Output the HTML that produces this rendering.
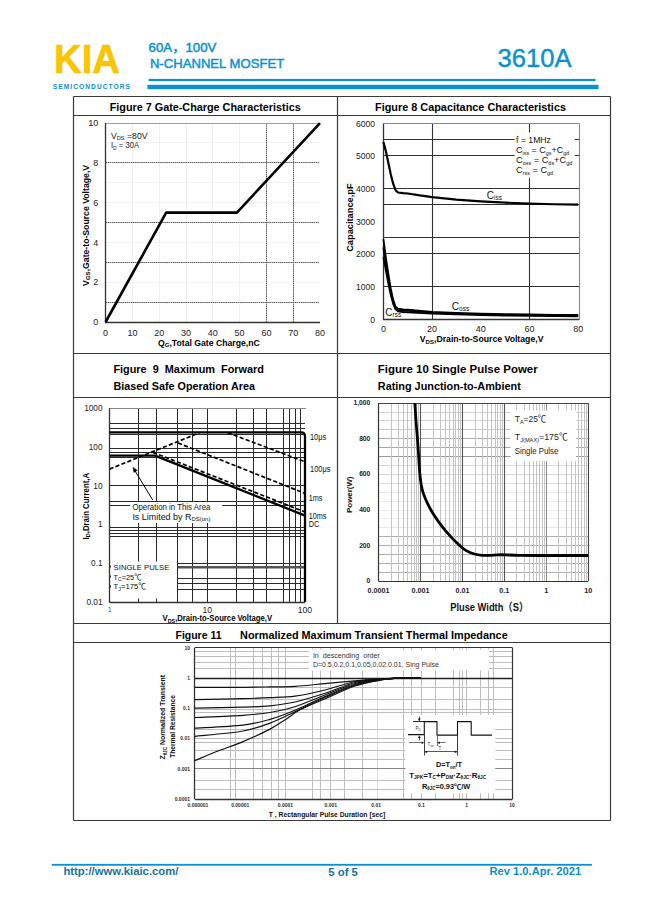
<!DOCTYPE html>
<html><head><meta charset="utf-8"><title>3610A datasheet page 5</title>
<style>
html,body{margin:0;padding:0;background:#fff;}
svg{display:block;font-family:"Liberation Sans", "Noto Sans CJK SC", sans-serif;}
</style></head>
<body>
<svg width="649" height="917" viewBox="0 0 649 917">
<rect width="649" height="917" fill="#fff"/>
<text x="54" y="72.7" font-size="40.3" font-weight="bold" textLength="66" lengthAdjust="spacingAndGlyphs" fill="#f9c500" stroke="#f9c500" stroke-width="0.6">KIA</text>
<text transform="translate(52.8 89.1) scale(0.84 1)" x="0" y="0" font-size="7.9" font-weight="bold" textLength="91.9" lengthAdjust="spacing" fill="#0a92cf">SEMICONDUCTORS</text>
<text x="148.6" y="52.3" font-size="12" textLength="67.8" lengthAdjust="spacingAndGlyphs" font-family="'Liberation Sans', 'Noto Sans CJK SC', sans-serif" fill="#0a92cf" stroke="#0a92cf" stroke-width="0.45">60A，100V</text>
<text x="149.9" y="68.3" font-size="12.6" textLength="134.3" lengthAdjust="spacingAndGlyphs" fill="#0a92cf" stroke="#0a92cf" stroke-width="0.45">N-CHANNEL MOSFET</text>
<text x="497.6" y="67.1" font-size="25.5" textLength="74" lengthAdjust="spacingAndGlyphs" fill="#0a92cf" stroke="#0a92cf" stroke-width="0.4">3610A</text>
<rect x="148.6" y="78.9" width="447" height="2.2" fill="#0a92cf" stroke="none" stroke-width="0"/>
<rect x="147.4" y="84.8" width="451.1" height="4.4" fill="#0a92cf" stroke="none" stroke-width="0"/>
<line x1="73.5" y1="96.5" x2="610.5" y2="96.5" stroke="#3a3a3a" stroke-width="1.2"/>
<line x1="73.5" y1="820.5" x2="610.5" y2="820.5" stroke="#3a3a3a" stroke-width="1.2"/>
<line x1="73.5" y1="96.5" x2="73.5" y2="820.6" stroke="#3a3a3a" stroke-width="1.2"/>
<line x1="610.5" y1="96.5" x2="610.5" y2="820.6" stroke="#3a3a3a" stroke-width="1.2"/>
<line x1="337.5" y1="96.5" x2="337.5" y2="623.6" stroke="#3a3a3a" stroke-width="1.2"/>
<line x1="73.5" y1="115.5" x2="610.5" y2="115.5" stroke="#3a3a3a" stroke-width="1.2"/>
<line x1="73.5" y1="353.5" x2="610.5" y2="353.5" stroke="#3a3a3a" stroke-width="1.2"/>
<line x1="73.5" y1="397.5" x2="610.5" y2="397.5" stroke="#3a3a3a" stroke-width="1.2"/>
<line x1="73.5" y1="623.5" x2="610.5" y2="623.5" stroke="#3a3a3a" stroke-width="1.2"/>
<line x1="73.5" y1="642.5" x2="610.5" y2="642.5" stroke="#3a3a3a" stroke-width="1.2"/>
<text x="205.2" y="110.9" font-size="10.3" font-weight="bold" text-anchor="middle" textLength="191" lengthAdjust="spacingAndGlyphs" fill="#000">Figure 7 Gate-Charge Characteristics</text>
<text x="470.5" y="110.9" font-size="10.3" font-weight="bold" text-anchor="middle" textLength="191" lengthAdjust="spacingAndGlyphs" fill="#000">Figure 8 Capacitance Characteristics</text>
<text x="113.4" y="373.3" font-size="10.6" font-weight="bold" textLength="150.6" lengthAdjust="spacingAndGlyphs" fill="#000">Figure&#160;&#160;9&#160;&#160;Maximum&#160;&#160;Forward</text>
<text x="113.4" y="390.4" font-size="10.6" font-weight="bold" textLength="141.6" lengthAdjust="spacingAndGlyphs" fill="#000">Biased Safe Operation Area</text>
<text x="377.8" y="373.3" font-size="10.6" font-weight="bold" textLength="159.9" lengthAdjust="spacingAndGlyphs" fill="#000">Figure 10 Single Pulse Power</text>
<text x="377.8" y="390.4" font-size="10.6" font-weight="bold" textLength="143" lengthAdjust="spacingAndGlyphs" fill="#000">Rating Junction-to-Ambient</text>
<text x="175.5" y="639.4" font-size="11" font-weight="bold" textLength="46" lengthAdjust="spacingAndGlyphs" fill="#000">Figure 11</text>
<text x="240.1" y="639.4" font-size="11" font-weight="bold" textLength="267.6" lengthAdjust="spacingAndGlyphs" fill="#000">Normalized Maximum Transient Thermal Impedance</text>
<rect x="51.8" y="863.9" width="540.1" height="1.8" fill="#0a92cf" stroke="none" stroke-width="0"/>
<text x="63.4" y="875.3" font-size="11" font-weight="bold" textLength="115" lengthAdjust="spacingAndGlyphs" fill="#17739a">http://www.kiaic.com/</text>
<text x="328.3" y="875.6" font-size="11" font-weight="bold" textLength="29.6" lengthAdjust="spacingAndGlyphs" fill="#17739a">5 of 5</text>
<text x="489.6" y="875.3" font-size="11" font-weight="bold" textLength="91.5" lengthAdjust="spacingAndGlyphs" fill="#0c8fcc">Rev 1.0.Apr. 2021</text>
<line x1="132.5" y1="123.3" x2="132.5" y2="322" stroke="#efefef" stroke-width="1"/>
<line x1="159.5" y1="123.3" x2="159.5" y2="322" stroke="#efefef" stroke-width="1"/>
<line x1="186.5" y1="123.3" x2="186.5" y2="322" stroke="#efefef" stroke-width="1"/>
<line x1="212.5" y1="123.3" x2="212.5" y2="322" stroke="#efefef" stroke-width="1"/>
<line x1="239.5" y1="123.3" x2="239.5" y2="322" stroke="#efefef" stroke-width="1"/>
<line x1="105.6" y1="282.5" x2="320" y2="282.5" stroke="#f2f2f2" stroke-width="1"/>
<line x1="105.6" y1="242.5" x2="320" y2="242.5" stroke="#f2f2f2" stroke-width="1"/>
<line x1="105.6" y1="202.5" x2="320" y2="202.5" stroke="#f2f2f2" stroke-width="1"/>
<line x1="105.6" y1="182.5" x2="320" y2="182.5" stroke="#f2f2f2" stroke-width="1"/>
<line x1="105.6" y1="142.5" x2="320" y2="142.5" stroke="#f2f2f2" stroke-width="1"/>
<line x1="105.6" y1="162.5" x2="319" y2="162.5" stroke="#5a5a5a" stroke-width="1" stroke-dasharray="1.5 0.6"/>
<line x1="105.6" y1="222.5" x2="319" y2="222.5" stroke="#5a5a5a" stroke-width="1" stroke-dasharray="1.5 0.6"/>
<line x1="105.6" y1="262.5" x2="319" y2="262.5" stroke="#5a5a5a" stroke-width="1" stroke-dasharray="1.5 0.6"/>
<line x1="105.6" y1="302.5" x2="319" y2="302.5" stroke="#5a5a5a" stroke-width="1" stroke-dasharray="1.5 0.6"/>
<line x1="266.5" y1="123.3" x2="266.5" y2="322" stroke="#5a5a5a" stroke-width="1" stroke-dasharray="1.5 0.6"/>
<line x1="293.5" y1="123.3" x2="293.5" y2="322" stroke="#5a5a5a" stroke-width="1" stroke-dasharray="1.5 0.6"/>
<line x1="105.6" y1="123.5" x2="319" y2="123.5" stroke="#a0a0a0" stroke-width="1.2"/>
<line x1="105.5" y1="123" x2="105.5" y2="322.6" stroke="#333" stroke-width="1.3"/>
<line x1="105" y1="322.5" x2="320" y2="322.5" stroke="#333" stroke-width="1.3"/>
<polyline points="105.6,322 166.17,212.6 236.92,212.6 320,123.1" fill="none" stroke="#000" stroke-width="2.6" stroke-linejoin="round"/>
<text x="98.2" y="325.2" font-size="9" text-anchor="end" fill="#222">0</text>
<text x="98.2" y="285.42" font-size="9" text-anchor="end" fill="#222">2</text>
<text x="98.2" y="245.64" font-size="9" text-anchor="end" fill="#222">4</text>
<text x="98.2" y="205.86" font-size="9" text-anchor="end" fill="#222">6</text>
<text x="98.2" y="166.08" font-size="9" text-anchor="end" fill="#222">8</text>
<text x="98.2" y="126.3" font-size="9" text-anchor="end" fill="#222">10</text>
<text x="105.6" y="336" font-size="9" text-anchor="middle" fill="#222">0</text>
<text x="132.4" y="336" font-size="9" text-anchor="middle" fill="#222">10</text>
<text x="159.2" y="336" font-size="9" text-anchor="middle" fill="#222">20</text>
<text x="186" y="336" font-size="9" text-anchor="middle" fill="#222">30</text>
<text x="212.8" y="336" font-size="9" text-anchor="middle" fill="#222">40</text>
<text x="239.6" y="336" font-size="9" text-anchor="middle" fill="#222">50</text>
<text x="266.4" y="336" font-size="9" text-anchor="middle" fill="#222">60</text>
<text x="293.2" y="336" font-size="9" text-anchor="middle" fill="#222">70</text>
<text x="320" y="336" font-size="9" text-anchor="middle" fill="#222">80</text>
<text x="111" y="138.8" font-size="8.4" textLength="36.5" lengthAdjust="spacingAndGlyphs" fill="#222">V<tspan font-size="5.5" dy="1.5">DS</tspan><tspan dy="-1.5"> =80V</tspan></text>
<text x="111" y="148.3" font-size="8.4" textLength="28" lengthAdjust="spacingAndGlyphs" fill="#222">I<tspan font-size="5.5" dy="1.5">D</tspan><tspan dy="-1.5"> = 30A</tspan></text>
<text x="208.9" y="345.6" font-size="8.6" font-weight="bold" text-anchor="middle" textLength="101.8" lengthAdjust="spacingAndGlyphs" fill="#000">Q<tspan font-size="6" dy="1.5">G</tspan><tspan dy="-1.5">,Total Gate Charge,nC</tspan></text>
<text x="88.6" y="225.4" font-size="8.6" font-weight="bold" text-anchor="middle" textLength="121" lengthAdjust="spacingAndGlyphs" transform="rotate(-90 88.6 225.4)" fill="#000">V<tspan font-size="6" dy="1.5">GS</tspan><tspan dy="-1.5">,Gate-to-Source Voltage,V</tspan></text>
<line x1="383.4" y1="139.5" x2="579.5" y2="139.5" stroke="#333" stroke-width="1.1"/>
<line x1="383.4" y1="155.5" x2="579.5" y2="155.5" stroke="#333" stroke-width="1.1"/>
<line x1="383.4" y1="188.5" x2="579.5" y2="188.5" stroke="#333" stroke-width="1.1"/>
<line x1="383.4" y1="204.5" x2="579.5" y2="204.5" stroke="#333" stroke-width="1.1"/>
<line x1="383.4" y1="237.5" x2="579.5" y2="237.5" stroke="#333" stroke-width="1.1"/>
<line x1="383.4" y1="253.5" x2="579.5" y2="253.5" stroke="#333" stroke-width="1.1"/>
<line x1="383.4" y1="286.5" x2="579.5" y2="286.5" stroke="#333" stroke-width="1.1"/>
<line x1="432.5" y1="123.6" x2="432.5" y2="319.2" stroke="#333" stroke-width="1.1"/>
<line x1="529.5" y1="123.6" x2="529.5" y2="319.2" stroke="#333" stroke-width="1.1"/>
<line x1="383.4" y1="123.5" x2="579.5" y2="123.5" stroke="#888" stroke-width="1.1"/>
<line x1="579.5" y1="123.6" x2="579.5" y2="319.2" stroke="#888" stroke-width="1.1"/>
<line x1="383.5" y1="123.6" x2="383.5" y2="319.6" stroke="#333" stroke-width="1.3"/>
<line x1="383" y1="319.5" x2="579.5" y2="319.5" stroke="#333" stroke-width="1.3"/>
<rect x="514.6" y="132.5" width="60.1" height="45.5" fill="#fff" stroke="none" stroke-width="0"/>
<text x="516.1" y="143.3" font-size="8.8" textLength="34.8" lengthAdjust="spacingAndGlyphs" fill="#111">f = 1MHz</text>
<text x="516.1" y="153.4" font-size="8.8" textLength="53" lengthAdjust="spacingAndGlyphs" fill="#111">C<tspan font-size="5.2" dy="1.6">iss</tspan><tspan dy="-1.6"> = C</tspan><tspan font-size="5.2" dy="1.6">gs</tspan><tspan dy="-1.6">+C</tspan><tspan font-size="5.2" dy="1.6">gd</tspan><tspan dy="-1.6"></tspan></text>
<text x="516.1" y="163.2" font-size="8.8" textLength="56.1" lengthAdjust="spacingAndGlyphs" fill="#111">C<tspan font-size="5.2" dy="1.6">oss</tspan><tspan dy="-1.6"> = C</tspan><tspan font-size="5.2" dy="1.6">ds</tspan><tspan dy="-1.6">+C</tspan><tspan font-size="5.2" dy="1.6">gd</tspan><tspan dy="-1.6"></tspan></text>
<text x="516.1" y="173.2" font-size="8.8" textLength="37" lengthAdjust="spacingAndGlyphs" fill="#111">C<tspan font-size="5.2" dy="1.6">rss</tspan><tspan dy="-1.6"> = C</tspan><tspan font-size="5.2" dy="1.6">gd</tspan><tspan dy="-1.6"></tspan></text>
<polyline points="383.4,141.91 385.83,151.05 388.27,162.48 390.7,173.91 393.14,183.7 395.57,190.23 398.01,192.52 402.88,193.17 407.75,193.5 419.92,195.46 432.1,197.09 456.45,199.7 480.8,201.33 505.15,202.64 529.5,203.62 553.85,204.27 578.2,204.6" fill="none" stroke="#000" stroke-width="2.2" stroke-linejoin="round"/>
<polyline points="383.4,239.21 385.83,257.16 388.27,273.49 390.7,288.18 393.14,299.61 395.57,306.79 398.01,308.75 402.88,309.4 407.75,309.73 432.1,312.02 456.45,313 480.8,313.65 505.15,314.14 529.5,314.47 553.85,314.79 578.2,314.96" fill="none" stroke="#000" stroke-width="1.8" stroke-linejoin="round"/>
<polyline points="383.4,257.16 385.83,270.23 388.27,283.28 390.7,294.71 393.14,303.85 395.57,309.4 398.01,311.36 402.88,312.02 407.75,312.34 432.1,313.65 456.45,314.47 480.8,315.12 505.15,315.61 529.5,315.94 553.85,316.1 578.2,316.26" fill="none" stroke="#000" stroke-width="1.8" stroke-linejoin="round"/>
<polyline points="383.4,247.37 385.83,263.69 388.27,278.39 390.7,291.45 393.14,301.9 395.57,308.1 398.01,310.06 402.88,310.71 407.75,310.87 432.1,312.67 456.45,313.65 480.8,314.3 505.15,314.79 529.5,315.12 553.85,315.45 578.2,315.61" fill="none" stroke="#000" stroke-width="1.8" stroke-linejoin="round"/>
<text x="486.8" y="198.5" font-size="10" fill="#111">C<tspan font-size="6.5" dy="1.8">iss</tspan></text>
<text x="451.8" y="309.5" font-size="10" fill="#111">C<tspan font-size="6.5" dy="1.8">oss</tspan></text>
<text x="385.3" y="315.5" font-size="10" fill="#111">C<tspan font-size="6.5" dy="1.8">rss</tspan></text>
<text x="375" y="322.7" font-size="8.6" text-anchor="end" fill="#222">0</text>
<text x="375" y="290.05" font-size="8.6" text-anchor="end" fill="#222">1000</text>
<text x="375" y="257.4" font-size="8.6" text-anchor="end" fill="#222">2000</text>
<text x="375" y="224.75" font-size="8.6" text-anchor="end" fill="#222">3000</text>
<text x="375" y="192.1" font-size="8.6" text-anchor="end" fill="#222">4000</text>
<text x="375" y="159.45" font-size="8.6" text-anchor="end" fill="#222">5000</text>
<text x="375" y="126.8" font-size="8.6" text-anchor="end" fill="#222">6000</text>
<text x="383.4" y="332" font-size="9" text-anchor="middle" fill="#222">0</text>
<text x="432.1" y="332" font-size="9" text-anchor="middle" fill="#222">20</text>
<text x="480.8" y="332" font-size="9" text-anchor="middle" fill="#222">40</text>
<text x="529.5" y="332" font-size="9" text-anchor="middle" fill="#222">60</text>
<text x="578.2" y="332" font-size="9" text-anchor="middle" fill="#222">80</text>
<text x="481.6" y="342.2" font-size="8.6" font-weight="bold" text-anchor="middle" textLength="123.7" lengthAdjust="spacingAndGlyphs" fill="#000">V<tspan font-size="6" dy="1.5">DS</tspan><tspan dy="-1.5">,Drain-to-Source Voltage,V</tspan></text>
<text x="352.9" y="217.6" font-size="8.6" font-weight="bold" text-anchor="middle" textLength="68.4" lengthAdjust="spacingAndGlyphs" transform="rotate(-90 352.9 217.6)" fill="#000">Capacitance,pF</text>
<line x1="138.5" y1="408.2" x2="138.5" y2="501" stroke="#2a2a2a" stroke-width="1"/>
<line x1="138.5" y1="523" x2="138.5" y2="561.5" stroke="#2a2a2a" stroke-width="1"/>
<line x1="138.5" y1="598.5" x2="138.5" y2="602" stroke="#2a2a2a" stroke-width="1"/>
<line x1="156.5" y1="408.2" x2="156.5" y2="501" stroke="#2a2a2a" stroke-width="1"/>
<line x1="156.5" y1="523" x2="156.5" y2="561.5" stroke="#2a2a2a" stroke-width="1"/>
<line x1="156.5" y1="598.5" x2="156.5" y2="602" stroke="#2a2a2a" stroke-width="1"/>
<line x1="177.5" y1="408.2" x2="177.5" y2="501" stroke="#2a2a2a" stroke-width="1"/>
<line x1="177.5" y1="523" x2="177.5" y2="602" stroke="#2a2a2a" stroke-width="1"/>
<line x1="192.5" y1="408.2" x2="192.5" y2="501" stroke="#2a2a2a" stroke-width="1"/>
<line x1="192.5" y1="523" x2="192.5" y2="602" stroke="#2a2a2a" stroke-width="1"/>
<line x1="207.5" y1="408.2" x2="207.5" y2="501" stroke="#2a2a2a" stroke-width="1"/>
<line x1="207.5" y1="523" x2="207.5" y2="602" stroke="#2a2a2a" stroke-width="1"/>
<line x1="236.5" y1="408.2" x2="236.5" y2="602" stroke="#2a2a2a" stroke-width="1"/>
<line x1="253.5" y1="408.2" x2="253.5" y2="602" stroke="#2a2a2a" stroke-width="1"/>
<line x1="266.5" y1="408.2" x2="266.5" y2="602" stroke="#2a2a2a" stroke-width="1"/>
<line x1="283.5" y1="408.2" x2="283.5" y2="602" stroke="#2a2a2a" stroke-width="1"/>
<line x1="289.5" y1="408.2" x2="289.5" y2="602" stroke="#2a2a2a" stroke-width="1"/>
<line x1="295.5" y1="408.2" x2="295.5" y2="602" stroke="#2a2a2a" stroke-width="1"/>
<line x1="300.5" y1="408.2" x2="300.5" y2="602" stroke="#2a2a2a" stroke-width="1"/>
<line x1="109.5" y1="423.5" x2="305" y2="423.5" stroke="#2a2a2a" stroke-width="1"/>
<line x1="109.5" y1="428.5" x2="305" y2="428.5" stroke="#2a2a2a" stroke-width="1"/>
<line x1="109.5" y1="434.5" x2="305" y2="434.5" stroke="#2a2a2a" stroke-width="1"/>
<line x1="109.5" y1="448.5" x2="305" y2="448.5" stroke="#2a2a2a" stroke-width="1"/>
<line x1="109.5" y1="452.5" x2="305" y2="452.5" stroke="#2a2a2a" stroke-width="1"/>
<line x1="109.5" y1="457.5" x2="305" y2="457.5" stroke="#2a2a2a" stroke-width="1"/>
<line x1="109.5" y1="485.5" x2="305" y2="485.5" stroke="#2a2a2a" stroke-width="1"/>
<line x1="109.5" y1="501.5" x2="305" y2="501.5" stroke="#2a2a2a" stroke-width="1"/>
<line x1="109.5" y1="527.5" x2="305" y2="527.5" stroke="#2a2a2a" stroke-width="1"/>
<line x1="109.5" y1="530.5" x2="305" y2="530.5" stroke="#2a2a2a" stroke-width="1"/>
<line x1="109.5" y1="533.5" x2="305" y2="533.5" stroke="#2a2a2a" stroke-width="1"/>
<line x1="109.5" y1="536.5" x2="305" y2="536.5" stroke="#2a2a2a" stroke-width="1"/>
<line x1="109.5" y1="505.5" x2="130.2" y2="505.5" stroke="#2a2a2a" stroke-width="1"/>
<line x1="222.2" y1="505.5" x2="305" y2="505.5" stroke="#2a2a2a" stroke-width="1"/>
<line x1="177.9" y1="563.5" x2="305" y2="563.5" stroke="#2a2a2a" stroke-width="1"/>
<line x1="177.9" y1="578.5" x2="305" y2="578.5" stroke="#2a2a2a" stroke-width="1"/>
<line x1="177.9" y1="583.5" x2="305" y2="583.5" stroke="#2a2a2a" stroke-width="1"/>
<line x1="177.9" y1="589.5" x2="305" y2="589.5" stroke="#2a2a2a" stroke-width="1"/>
<line x1="177.9" y1="567.3" x2="305" y2="567.3" stroke="#555" stroke-width="2.4"/>
<line x1="109.5" y1="408.5" x2="306" y2="408.5" stroke="#8a8a8a" stroke-width="1.2"/>
<line x1="109.5" y1="408.2" x2="109.5" y2="602.5" stroke="#333" stroke-width="1.3"/>
<line x1="109.5" y1="602.5" x2="305" y2="602.5" stroke="#333" stroke-width="1.3"/>
<path d="M109.5,432.4 L301,432.4 Q305,432.4 305,436.4 L305,602" fill="none" stroke="#000" stroke-width="2.3"/>
<line x1="109.5" y1="455.6" x2="155.5" y2="455.6" stroke="#000" stroke-width="2.3"/>
<line x1="109.5" y1="469.1" x2="199.5" y2="432.8" stroke="#000" stroke-width="1.7" stroke-dasharray="4.2 2.2"/>
<line x1="227.7" y1="432.8" x2="305" y2="461.8" stroke="#000" stroke-width="1.7" stroke-dasharray="4.2 2.2"/>
<line x1="178" y1="443" x2="305" y2="493.4" stroke="#000" stroke-width="1.7" stroke-dasharray="4.2 2.2"/>
<line x1="153" y1="452.4" x2="305" y2="512" stroke="#000" stroke-width="1.7" stroke-dasharray="4.2 2.2"/>
<line x1="155" y1="455.6" x2="305" y2="515.6" stroke="#000" stroke-width="2.3"/>
<text x="310" y="439.6" font-size="8.9" textLength="16.2" lengthAdjust="spacingAndGlyphs" fill="#111">10μs</text>
<text x="310" y="471.7" font-size="8.9" textLength="20.4" lengthAdjust="spacingAndGlyphs" fill="#111">100μs</text>
<text x="308.7" y="501.1" font-size="8.9" textLength="13.8" lengthAdjust="spacingAndGlyphs" fill="#111">1ms</text>
<text x="308.7" y="518.8" font-size="8.9" textLength="17.7" lengthAdjust="spacingAndGlyphs" fill="#111">10ms</text>
<text x="308.7" y="527.3" font-size="8.9" textLength="10.5" lengthAdjust="spacingAndGlyphs" fill="#111">DC</text>
<text x="132.4" y="510.3" font-size="8.2" textLength="78" lengthAdjust="spacingAndGlyphs" fill="#111">Operation in This Area</text>
<text x="132.4" y="519.5" font-size="8.2" textLength="78" lengthAdjust="spacingAndGlyphs" fill="#111">Is Limited by R<tspan font-size="5.5" dy="1.5">DS(on)</tspan></text>
<line x1="152.7" y1="500" x2="134.6" y2="470.2" stroke="#000" stroke-width="1"/>
<path d="M133,467.4 L137.3,470.3 L133.9,472.4 Z" fill="#000" stroke="#000" stroke-width="0.5"/>
<text x="113.6" y="570" font-size="8.1" textLength="55.7" lengthAdjust="spacingAndGlyphs" fill="#111">SINGLE PULSE</text>
<text x="113.6" y="579.6" font-size="8.1" textLength="28" lengthAdjust="spacingAndGlyphs" fill="#111">T<tspan font-size="5.5" dy="1.5">C</tspan><tspan dy="-1.5">=25℃</tspan></text>
<text x="113.6" y="589.3" font-size="8.1" textLength="32.3" lengthAdjust="spacingAndGlyphs" fill="#111">T<tspan font-size="5.5" dy="1.5">J</tspan><tspan dy="-1.5">=175℃</tspan></text>
<line x1="110.5" y1="565.5" x2="110.5" y2="567.5" stroke="#333" stroke-width="1"/>
<line x1="110.5" y1="575.5" x2="110.5" y2="577.5" stroke="#333" stroke-width="1"/>
<line x1="110.5" y1="585.5" x2="110.5" y2="587.5" stroke="#333" stroke-width="1"/>
<text x="102.6" y="411.2" font-size="8.3" text-anchor="end" fill="#222">1000</text>
<text x="102.6" y="449.86" font-size="8.3" text-anchor="end" fill="#222">100</text>
<text x="102.6" y="488.52" font-size="8.3" text-anchor="end" fill="#222">10</text>
<text x="102.6" y="527.18" font-size="8.3" text-anchor="end" fill="#222">1</text>
<text x="102.6" y="565.84" font-size="8.3" text-anchor="end" fill="#222">0.1</text>
<text x="102.6" y="604.5" font-size="8.3" text-anchor="end" fill="#222">0.01</text>
<text x="109.8" y="612.3" font-size="6.4" text-anchor="middle" fill="#444">1</text>
<text x="207.3" y="613.3" font-size="8.6" text-anchor="middle" fill="#222">10</text>
<text x="304.9" y="613.3" font-size="8.6" text-anchor="middle" fill="#222">100</text>
<text x="217.3" y="621" font-size="8.6" font-weight="bold" text-anchor="middle" textLength="109.5" lengthAdjust="spacingAndGlyphs" fill="#000">V<tspan font-size="6" dy="1.5">DS</tspan><tspan dy="-1.5">,Drain-to-Source Voltage,V</tspan></text>
<text x="88.8" y="506.1" font-size="8.6" font-weight="bold" text-anchor="middle" textLength="66.6" lengthAdjust="spacingAndGlyphs" transform="rotate(-90 88.8 506.1)" fill="#000">I<tspan font-size="6" dy="1.5">D</tspan><tspan dy="-1.5">,Drain Current,A</tspan></text>
<line x1="378.6" y1="412.5" x2="588.2" y2="412.5" stroke="#d4d4d4" stroke-width="1"/>
<line x1="378.6" y1="420.5" x2="588.2" y2="420.5" stroke="#d4d4d4" stroke-width="1"/>
<line x1="378.6" y1="429.5" x2="588.2" y2="429.5" stroke="#c8c8c8" stroke-width="1"/>
<line x1="378.6" y1="438.5" x2="588.2" y2="438.5" stroke="#b0b0b0" stroke-width="1"/>
<line x1="378.6" y1="447.5" x2="588.2" y2="447.5" stroke="#a8a8a8" stroke-width="1"/>
<line x1="378.6" y1="456.5" x2="588.2" y2="456.5" stroke="#9a9a9a" stroke-width="1"/>
<line x1="378.6" y1="465.5" x2="588.2" y2="465.5" stroke="#d8d8d8" stroke-width="1"/>
<line x1="378.6" y1="474.5" x2="588.2" y2="474.5" stroke="#d8d8d8" stroke-width="1"/>
<line x1="378.6" y1="483.5" x2="588.2" y2="483.5" stroke="#dcdcdc" stroke-width="1"/>
<line x1="378.6" y1="492.5" x2="588.2" y2="492.5" stroke="#e8e8e8" stroke-width="1"/>
<line x1="378.6" y1="501.5" x2="588.2" y2="501.5" stroke="#eeeeee" stroke-width="1"/>
<line x1="378.6" y1="510.5" x2="588.2" y2="510.5" stroke="#eeeeee" stroke-width="1"/>
<line x1="378.6" y1="518.5" x2="588.2" y2="518.5" stroke="#eeeeee" stroke-width="1"/>
<line x1="378.6" y1="527.5" x2="588.2" y2="527.5" stroke="#e8e8e8" stroke-width="1"/>
<line x1="378.6" y1="536.5" x2="588.2" y2="536.5" stroke="#b0b0b0" stroke-width="1"/>
<line x1="378.6" y1="545.5" x2="588.2" y2="545.5" stroke="#b0b0b0" stroke-width="1"/>
<line x1="378.6" y1="554.5" x2="588.2" y2="554.5" stroke="#b0b0b0" stroke-width="1"/>
<line x1="378.6" y1="563.5" x2="588.2" y2="563.5" stroke="#b0b0b0" stroke-width="1"/>
<line x1="378.6" y1="572.5" x2="588.2" y2="572.5" stroke="#b0b0b0" stroke-width="1"/>
<line x1="391.5" y1="403.1" x2="391.5" y2="581.3" stroke="#c4c4c4" stroke-width="1"/>
<line x1="398.5" y1="403.1" x2="398.5" y2="581.3" stroke="#c4c4c4" stroke-width="1"/>
<line x1="403.5" y1="403.1" x2="403.5" y2="581.3" stroke="#c4c4c4" stroke-width="1"/>
<line x1="407.5" y1="403.1" x2="407.5" y2="581.3" stroke="#c4c4c4" stroke-width="1"/>
<line x1="411.5" y1="403.1" x2="411.5" y2="581.3" stroke="#c4c4c4" stroke-width="1"/>
<line x1="414.5" y1="403.1" x2="414.5" y2="581.3" stroke="#c4c4c4" stroke-width="1"/>
<line x1="416.5" y1="403.1" x2="416.5" y2="581.3" stroke="#c4c4c4" stroke-width="1"/>
<line x1="418.5" y1="403.1" x2="418.5" y2="581.3" stroke="#c4c4c4" stroke-width="1"/>
<line x1="433.5" y1="403.1" x2="433.5" y2="581.3" stroke="#c4c4c4" stroke-width="1"/>
<line x1="440.5" y1="403.1" x2="440.5" y2="581.3" stroke="#c4c4c4" stroke-width="1"/>
<line x1="445.5" y1="403.1" x2="445.5" y2="581.3" stroke="#c4c4c4" stroke-width="1"/>
<line x1="449.5" y1="403.1" x2="449.5" y2="581.3" stroke="#c4c4c4" stroke-width="1"/>
<line x1="453.5" y1="403.1" x2="453.5" y2="581.3" stroke="#c4c4c4" stroke-width="1"/>
<line x1="455.5" y1="403.1" x2="455.5" y2="581.3" stroke="#c4c4c4" stroke-width="1"/>
<line x1="458.5" y1="403.1" x2="458.5" y2="581.3" stroke="#c4c4c4" stroke-width="1"/>
<line x1="460.5" y1="403.1" x2="460.5" y2="581.3" stroke="#c4c4c4" stroke-width="1"/>
<line x1="475.5" y1="403.1" x2="475.5" y2="581.3" stroke="#c4c4c4" stroke-width="1"/>
<line x1="482.5" y1="403.1" x2="482.5" y2="581.3" stroke="#c4c4c4" stroke-width="1"/>
<line x1="487.5" y1="403.1" x2="487.5" y2="581.3" stroke="#c4c4c4" stroke-width="1"/>
<line x1="491.5" y1="403.1" x2="491.5" y2="581.3" stroke="#c4c4c4" stroke-width="1"/>
<line x1="495.5" y1="403.1" x2="495.5" y2="581.3" stroke="#c4c4c4" stroke-width="1"/>
<line x1="497.5" y1="403.1" x2="497.5" y2="581.3" stroke="#c4c4c4" stroke-width="1"/>
<line x1="500.5" y1="403.1" x2="500.5" y2="581.3" stroke="#c4c4c4" stroke-width="1"/>
<line x1="502.5" y1="403.1" x2="502.5" y2="581.3" stroke="#c4c4c4" stroke-width="1"/>
<line x1="516.5" y1="403.1" x2="516.5" y2="581.3" stroke="#c4c4c4" stroke-width="1"/>
<line x1="524.5" y1="403.1" x2="524.5" y2="581.3" stroke="#c4c4c4" stroke-width="1"/>
<line x1="529.5" y1="403.1" x2="529.5" y2="581.3" stroke="#c4c4c4" stroke-width="1"/>
<line x1="533.5" y1="403.1" x2="533.5" y2="581.3" stroke="#c4c4c4" stroke-width="1"/>
<line x1="536.5" y1="403.1" x2="536.5" y2="581.3" stroke="#c4c4c4" stroke-width="1"/>
<line x1="539.5" y1="403.1" x2="539.5" y2="581.3" stroke="#c4c4c4" stroke-width="1"/>
<line x1="542.5" y1="403.1" x2="542.5" y2="581.3" stroke="#c4c4c4" stroke-width="1"/>
<line x1="544.5" y1="403.1" x2="544.5" y2="581.3" stroke="#c4c4c4" stroke-width="1"/>
<line x1="558.5" y1="403.1" x2="558.5" y2="581.3" stroke="#c4c4c4" stroke-width="1"/>
<line x1="566.5" y1="403.1" x2="566.5" y2="581.3" stroke="#c4c4c4" stroke-width="1"/>
<line x1="571.5" y1="403.1" x2="571.5" y2="581.3" stroke="#c4c4c4" stroke-width="1"/>
<line x1="575.5" y1="403.1" x2="575.5" y2="581.3" stroke="#c4c4c4" stroke-width="1"/>
<line x1="578.5" y1="403.1" x2="578.5" y2="581.3" stroke="#c4c4c4" stroke-width="1"/>
<line x1="581.5" y1="403.1" x2="581.5" y2="581.3" stroke="#c4c4c4" stroke-width="1"/>
<line x1="584.5" y1="403.1" x2="584.5" y2="581.3" stroke="#c4c4c4" stroke-width="1"/>
<line x1="586.5" y1="403.1" x2="586.5" y2="581.3" stroke="#c4c4c4" stroke-width="1"/>
<line x1="420.5" y1="403.1" x2="420.5" y2="581.3" stroke="#555" stroke-width="1.1"/>
<line x1="462.5" y1="403.1" x2="462.5" y2="581.3" stroke="#555" stroke-width="1.1"/>
<line x1="504.5" y1="403.1" x2="504.5" y2="581.3" stroke="#555" stroke-width="1.1"/>
<line x1="546.5" y1="403.1" x2="546.5" y2="581.3" stroke="#8a8a8a" stroke-width="1"/>
<rect x="510.5" y="410.5" width="65.5" height="50.5" fill="#fff" stroke="none" stroke-width="0"/>
<text x="514.8" y="422.3" font-size="9.4" textLength="31.5" lengthAdjust="spacingAndGlyphs" fill="#222">T<tspan font-size="6" dy="1.8">A</tspan><tspan dy="-1.8">=25℃</tspan></text>
<text x="514.8" y="440.1" font-size="9.4" textLength="53" lengthAdjust="spacingAndGlyphs" fill="#222">T<tspan font-size="6" dy="1.8">J(MAX)</tspan><tspan dy="-1.8">=175℃</tspan></text>
<text x="514.8" y="453.6" font-size="9.4" textLength="43.5" lengthAdjust="spacingAndGlyphs" fill="#222">Single Pulse</text>
<line x1="378.6" y1="403.5" x2="588.2" y2="403.5" stroke="#444" stroke-width="1.1"/>
<line x1="588.5" y1="403.1" x2="588.5" y2="581.3" stroke="#444" stroke-width="1.1"/>
<line x1="378.5" y1="403.1" x2="378.5" y2="581.3" stroke="#333" stroke-width="1.2"/>
<line x1="378.6" y1="581.5" x2="588.2" y2="581.5" stroke="#333" stroke-width="1.2"/>
<path d="M414.9,403.2 C415.07,405.93 415.5,413.97 415.9,419.6 C416.3,425.23 416.85,431.03 417.3,437 C417.75,442.97 418.22,449.77 418.6,455.4 C418.98,461.03 419.17,465.92 419.6,470.8 C420.03,475.68 420.55,480.85 421.2,484.7 C421.85,488.55 422.35,490.57 423.5,493.9 C424.65,497.23 426.3,501.1 428.1,504.7 C429.9,508.3 431.98,511.9 434.3,515.5 C436.62,519.1 439.18,522.7 442,526.3 C444.82,529.9 448.38,534.02 451.2,537.1 C454.02,540.18 456.33,542.5 458.9,544.8 C461.47,547.1 464.03,549.37 466.6,550.9 C469.17,552.43 471.73,553.27 474.3,554 C476.87,554.73 479.43,555.08 482,555.3 C484.57,555.52 487.13,555.38 489.7,555.3 C492.27,555.22 494.85,554.88 497.4,554.8 C499.95,554.72 501.23,554.7 505,554.8 C508.77,554.9 512.5,555.28 520,555.4 C527.5,555.52 538.63,555.48 550,555.5 C561.37,555.52 581.83,555.5 588.2,555.5" fill="none" stroke="#000" stroke-width="2.8" stroke-linejoin="round" stroke-linecap="butt"/>
<text x="370.3" y="583.4" font-size="6.7" font-weight="bold" text-anchor="end" fill="#222">0</text>
<text x="370.3" y="547.76" font-size="6.7" font-weight="bold" text-anchor="end" fill="#222">200</text>
<text x="370.3" y="512.12" font-size="6.7" font-weight="bold" text-anchor="end" fill="#222">400</text>
<text x="370.3" y="476.48" font-size="6.7" font-weight="bold" text-anchor="end" fill="#222">600</text>
<text x="370.3" y="440.84" font-size="6.7" font-weight="bold" text-anchor="end" fill="#222">800</text>
<text x="370.3" y="405.2" font-size="6.7" font-weight="bold" text-anchor="end" fill="#222">1,000</text>
<text x="378.6" y="593.1" font-size="7.2" font-weight="bold" text-anchor="middle" fill="#222">0.0001</text>
<text x="420.52" y="593.1" font-size="7.2" font-weight="bold" text-anchor="middle" fill="#222">0.001</text>
<text x="462.44" y="593.1" font-size="7.2" font-weight="bold" text-anchor="middle" fill="#222">0.01</text>
<text x="504.36" y="593.1" font-size="7.2" font-weight="bold" text-anchor="middle" fill="#222">0.1</text>
<text x="546.28" y="593.1" font-size="7.2" font-weight="bold" text-anchor="middle" fill="#222">1</text>
<text x="588.2" y="593.1" font-size="7.2" font-weight="bold" text-anchor="middle" fill="#222">10</text>
<text x="450.2" y="611" font-size="11" font-weight="bold" textLength="78" lengthAdjust="spacingAndGlyphs" font-family="'Liberation Sans', 'Noto Sans CJK SC', sans-serif" fill="#111">Pluse Width（S）</text>
<text x="351.8" y="494.7" font-size="7.4" font-weight="bold" text-anchor="middle" textLength="36.4" lengthAdjust="spacingAndGlyphs" transform="rotate(-90 351.8 494.7)" fill="#111">Power(W)</text>
<line x1="230.5" y1="647.7" x2="230.5" y2="799.2" stroke="#bdbdbd" stroke-width="1"/>
<line x1="235.5" y1="647.7" x2="235.5" y2="799.2" stroke="#bdbdbd" stroke-width="1"/>
<line x1="253.5" y1="647.7" x2="253.5" y2="799.2" stroke="#bdbdbd" stroke-width="1"/>
<line x1="262.5" y1="647.7" x2="262.5" y2="799.2" stroke="#bdbdbd" stroke-width="1"/>
<line x1="271.5" y1="647.7" x2="271.5" y2="799.2" stroke="#bdbdbd" stroke-width="1"/>
<line x1="278.5" y1="647.7" x2="278.5" y2="799.2" stroke="#bdbdbd" stroke-width="1"/>
<line x1="285.5" y1="647.7" x2="285.5" y2="799.2" stroke="#bdbdbd" stroke-width="1"/>
<line x1="312.5" y1="647.7" x2="312.5" y2="799.2" stroke="#bdbdbd" stroke-width="1"/>
<line x1="320.5" y1="647.7" x2="320.5" y2="799.2" stroke="#bdbdbd" stroke-width="1"/>
<line x1="330.5" y1="647.7" x2="330.5" y2="799.2" stroke="#bdbdbd" stroke-width="1"/>
<line x1="344.5" y1="647.7" x2="344.5" y2="799.2" stroke="#bdbdbd" stroke-width="1"/>
<line x1="362.5" y1="647.7" x2="362.5" y2="799.2" stroke="#bdbdbd" stroke-width="1"/>
<line x1="403.5" y1="647.7" x2="403.5" y2="799.2" stroke="#bdbdbd" stroke-width="1"/>
<line x1="411.5" y1="647.7" x2="411.5" y2="799.2" stroke="#bdbdbd" stroke-width="1"/>
<line x1="421.5" y1="647.7" x2="421.5" y2="799.2" stroke="#bdbdbd" stroke-width="1"/>
<line x1="435.5" y1="647.7" x2="435.5" y2="799.2" stroke="#bdbdbd" stroke-width="1"/>
<line x1="453.5" y1="647.7" x2="453.5" y2="799.2" stroke="#bdbdbd" stroke-width="1"/>
<line x1="459.5" y1="647.7" x2="459.5" y2="799.2" stroke="#bdbdbd" stroke-width="1"/>
<line x1="462.5" y1="647.7" x2="462.5" y2="799.2" stroke="#bdbdbd" stroke-width="1"/>
<line x1="466.5" y1="647.7" x2="466.5" y2="799.2" stroke="#bdbdbd" stroke-width="1"/>
<line x1="480.5" y1="647.7" x2="480.5" y2="799.2" stroke="#bdbdbd" stroke-width="1"/>
<line x1="488.5" y1="647.7" x2="488.5" y2="799.2" stroke="#bdbdbd" stroke-width="1"/>
<line x1="493.5" y1="647.7" x2="493.5" y2="799.2" stroke="#bdbdbd" stroke-width="1"/>
<line x1="377.5" y1="647.7" x2="377.5" y2="799.2" stroke="#d8d8d8" stroke-width="1"/>
<line x1="194.9" y1="651.5" x2="512.4" y2="651.5" stroke="#bdbdbd" stroke-width="1"/>
<line x1="194.9" y1="656.5" x2="512.4" y2="656.5" stroke="#bdbdbd" stroke-width="1"/>
<line x1="194.9" y1="662.5" x2="512.4" y2="662.5" stroke="#bdbdbd" stroke-width="1"/>
<line x1="194.9" y1="668.5" x2="512.4" y2="668.5" stroke="#bdbdbd" stroke-width="1"/>
<line x1="194.9" y1="687.5" x2="512.4" y2="687.5" stroke="#bdbdbd" stroke-width="1"/>
<line x1="194.9" y1="699.5" x2="512.4" y2="699.5" stroke="#bdbdbd" stroke-width="1"/>
<line x1="194.9" y1="709.5" x2="512.4" y2="709.5" stroke="#bdbdbd" stroke-width="1"/>
<line x1="194.9" y1="712.5" x2="512.4" y2="712.5" stroke="#bdbdbd" stroke-width="1"/>
<line x1="194.9" y1="729.5" x2="512.4" y2="729.5" stroke="#bdbdbd" stroke-width="1"/>
<line x1="194.9" y1="738.5" x2="512.4" y2="738.5" stroke="#bdbdbd" stroke-width="1"/>
<line x1="194.9" y1="742.5" x2="512.4" y2="742.5" stroke="#bdbdbd" stroke-width="1"/>
<line x1="194.9" y1="750.5" x2="512.4" y2="750.5" stroke="#bdbdbd" stroke-width="1"/>
<line x1="194.9" y1="759.5" x2="512.4" y2="759.5" stroke="#bdbdbd" stroke-width="1"/>
<line x1="194.9" y1="780.5" x2="512.4" y2="780.5" stroke="#bdbdbd" stroke-width="1"/>
<line x1="194.9" y1="789.5" x2="512.4" y2="789.5" stroke="#bdbdbd" stroke-width="1"/>
<line x1="194.9" y1="768.5" x2="512.4" y2="768.5" stroke="#888" stroke-width="1"/>
<line x1="194.9" y1="678.5" x2="512.4" y2="678.5" stroke="#222" stroke-width="1.3"/>
<rect x="309" y="649.5" width="180" height="21" fill="#fff" stroke="none" stroke-width="0"/>
<text x="312.9" y="657.8" font-size="7.2" textLength="67" lengthAdjust="spacingAndGlyphs" fill="#333">In&#160;&#160;descending&#160;&#160;order</text>
<text x="312.9" y="667.2" font-size="7.2" textLength="126" lengthAdjust="spacingAndGlyphs" fill="#333">D=0.5,0.2,0.1,0.05,0.02.0.01, Sing Pulse</text>
<rect x="405.5" y="714.8" width="89.7" height="78.6" fill="#fff" stroke="none" stroke-width="0"/>
<line x1="194.9" y1="647.5" x2="512.4" y2="647.5" stroke="#333" stroke-width="1.2"/>
<line x1="512.5" y1="647.7" x2="512.5" y2="799.2" stroke="#333" stroke-width="1.2"/>
<line x1="194.5" y1="647.7" x2="194.5" y2="799.2" stroke="#333" stroke-width="1.3"/>
<line x1="194.9" y1="799.5" x2="512.4" y2="799.5" stroke="#333" stroke-width="1.3"/>
<path d="M195,687.3 C203,687.3 230.5,687.37 243,687.3 C255.5,687.23 261.33,687.07 270,686.9 C278.67,686.73 285.83,686.85 295,686.3 C304.17,685.75 315,684.52 325,683.6 C335,682.68 345.83,681.57 355,680.8 C364.17,680.03 372.5,679.43 380,679 C387.5,678.57 393.33,678.35 400,678.2 C406.67,678.05 416.67,678.12 420,678.1" fill="none" stroke="#111" stroke-width="1.2" stroke-linejoin="round" stroke-linecap="round"/>
<path d="M195,699.6 C203,699.43 230.5,698.92 243,698.6 C255.5,698.28 261.33,698.1 270,697.7 C278.67,697.3 285.83,697.48 295,696.2 C304.17,694.92 315,692.45 325,690 C335,687.55 345.83,683.3 355,681.5 C364.17,679.7 372.5,679.75 380,679.2 C387.5,678.65 393.33,678.38 400,678.2 C406.67,678.02 416.67,678.12 420,678.1" fill="none" stroke="#111" stroke-width="1.2" stroke-linejoin="round" stroke-linecap="round"/>
<path d="M195,708.2 C203,708.03 230.5,707.6 243,707.2 C255.5,706.8 261.33,706.67 270,705.8 C278.67,704.93 285.83,704.08 295,702 C304.17,699.92 315,696.55 325,693.3 C335,690.05 345.83,684.82 355,682.5 C364.17,680.18 372.5,680.12 380,679.4 C387.5,678.68 393.33,678.42 400,678.2 C406.67,677.98 416.67,678.12 420,678.1" fill="none" stroke="#111" stroke-width="1.2" stroke-linejoin="round" stroke-linecap="round"/>
<path d="M195,717.5 C203,717.13 230.5,716.13 243,715.3 C255.5,714.47 261.33,713.93 270,712.5 C278.67,711.07 285.83,709.62 295,706.7 C304.17,703.78 315,698.87 325,695 C335,691.13 345.83,686.07 355,683.5 C364.17,680.93 372.5,680.48 380,679.6 C387.5,678.72 393.33,678.45 400,678.2 C406.67,677.95 416.67,678.12 420,678.1" fill="none" stroke="#111" stroke-width="1.2" stroke-linejoin="round" stroke-linecap="round"/>
<path d="M195,728.1 C203,727.6 230.5,726.55 243,725.1 C255.5,723.65 261.33,721.87 270,719.4 C278.67,716.93 285.83,714.12 295,710.3 C304.17,706.48 315,700.8 325,696.5 C335,692.2 345.83,687.28 355,684.5 C364.17,681.72 372.5,680.85 380,679.8 C387.5,678.75 393.33,678.48 400,678.2 C406.67,677.92 416.67,678.12 420,678.1" fill="none" stroke="#111" stroke-width="1.2" stroke-linejoin="round" stroke-linecap="round"/>
<path d="M195,736.4 C203,735.5 230.5,733.22 243,731 C255.5,728.78 261.33,726.3 270,723.1 C278.67,719.9 285.83,716.07 295,711.8 C304.17,707.53 315,701.93 325,697.5 C335,693.07 345.83,688.12 355,685.2 C364.17,682.28 372.5,681.17 380,680 C387.5,678.83 393.33,678.52 400,678.2 C406.67,677.88 416.67,678.12 420,678.1" fill="none" stroke="#111" stroke-width="1.2" stroke-linejoin="round" stroke-linecap="round"/>
<path d="M195,760.5 C198.83,758.92 210,754.15 218,751 C226,747.85 234.33,745.25 243,741.6 C251.67,737.95 262.9,732.78 270,729.1 C277.1,725.42 280.6,722.72 285.6,719.5 C290.6,716.28 293.43,713.25 300,709.8 C306.57,706.35 315.83,702.77 325,698.8 C334.17,694.83 345.83,689.1 355,686 C364.17,682.9 372.5,681.5 380,680.2 C387.5,678.9 393.33,678.55 400,678.2 C406.67,677.85 416.67,678.12 420,678.1" fill="none" stroke="#111" stroke-width="1.2" stroke-linejoin="round" stroke-linecap="round"/>
<polyline points="408,734.6 424.3,734.6 424.3,721.6 437,721.6 437,735.1 457.5,735.1 457.5,721.6 471.2,721.6 471.2,735.1 492,735.1" fill="none" stroke="#111" stroke-width="1.1" stroke-linejoin="round"/>
<line x1="413" y1="721.5" x2="424.3" y2="721.5" stroke="#111" stroke-width="0.9"/>
<line x1="424.5" y1="735" x2="424.5" y2="755.5" stroke="#111" stroke-width="0.8"/>
<line x1="457.5" y1="735" x2="457.5" y2="755.5" stroke="#111" stroke-width="0.8"/>
<line x1="425" y1="751.5" x2="457" y2="751.5" stroke="#111" stroke-width="0.7"/>
<line x1="419.5" y1="716.5" x2="419.5" y2="720" stroke="#111" stroke-width="0.7"/>
<line x1="419.5" y1="737" x2="419.5" y2="740.5" stroke="#111" stroke-width="0.7"/>
<line x1="409" y1="742.5" x2="423" y2="742.5" stroke="#111" stroke-width="0.6"/>
<line x1="438.5" y1="742.5" x2="445.5" y2="742.5" stroke="#111" stroke-width="0.6"/>
<line x1="437.5" y1="736" x2="437.5" y2="746" stroke="#111" stroke-width="0.6"/>
<polygon points="419.3,721.4 418,718.6 420.6,718.6" fill="#111"/>
<polygon points="419.3,735.3 418,738.1 420.6,738.1" fill="#111"/>
<polygon points="424.2,742.7 421.6,741.5 421.6,743.9" fill="#111"/>
<polygon points="437.2,742.7 439.8,741.5 439.8,743.9" fill="#111"/>
<polygon points="424.5,751.9 427.1,750.7 427.1,753.1" fill="#111"/>
<polygon points="457.3,751.9 454.7,750.7 454.7,753.1" fill="#111"/>
<text x="415.5" y="729.5" font-size="4.5" fill="#333">P<tspan font-size="3" dy="1">D</tspan></text>
<text x="427.6" y="745.5" font-size="4.5" fill="#333">T<tspan font-size="3" dy="1">on</tspan></text>
<text x="438.5" y="749.8" font-size="4.5" fill="#333">T</text>
<text x="449" y="767.3" font-size="7.4" font-weight="bold" text-anchor="middle" textLength="26" lengthAdjust="spacingAndGlyphs" fill="#111">D=T<tspan font-size="4.5" dy="1.3">on</tspan><tspan dy="-1.3">/T</tspan></text>
<text x="409.2" y="778" font-size="7.4" font-weight="bold" textLength="77" lengthAdjust="spacingAndGlyphs" fill="#111">T<tspan font-size="4.5" dy="1.3">JPK</tspan><tspan dy="-1.3">=T</tspan><tspan font-size="4.5" dy="1.3">C</tspan><tspan dy="-1.3">+P</tspan><tspan font-size="4.5" dy="1.3">DM</tspan><tspan dy="-1.3">·Z</tspan><tspan font-size="4.5" dy="1.3">θJC</tspan><tspan dy="-1.3">·R</tspan><tspan font-size="4.5" dy="1.3">θJC</tspan></text>
<text x="422" y="789.1" font-size="7.4" font-weight="bold" textLength="48.3" lengthAdjust="spacingAndGlyphs" fill="#111">R<tspan font-size="4.5" dy="1.3">θJC</tspan><tspan dy="-1.3">=0.93℃/W</tspan></text>
<text x="190" y="649.7" font-size="5" font-weight="bold" text-anchor="end" fill="#333">10</text>
<text x="190" y="679.9" font-size="5" font-weight="bold" text-anchor="end" fill="#333">1</text>
<text x="190" y="710.1" font-size="5" font-weight="bold" text-anchor="end" fill="#333">0.1</text>
<text x="190" y="740.3" font-size="5" font-weight="bold" text-anchor="end" fill="#333">0.01</text>
<text x="190" y="770.5" font-size="5" font-weight="bold" text-anchor="end" fill="#333">0.001</text>
<text x="190" y="800.7" font-size="5" font-weight="bold" text-anchor="end" fill="#333">0.0001</text>
<text x="197.9" y="806.6" font-size="5" font-weight="bold" text-anchor="middle" fill="#333">0.000001</text>
<text x="240.2" y="806.6" font-size="5" font-weight="bold" text-anchor="middle" fill="#333">0.00001</text>
<text x="285.5" y="806.6" font-size="5" font-weight="bold" text-anchor="middle" fill="#333">0.0001</text>
<text x="330.8" y="806.6" font-size="5" font-weight="bold" text-anchor="middle" fill="#333">0.001</text>
<text x="376.1" y="806.6" font-size="5" font-weight="bold" text-anchor="middle" fill="#333">0.01</text>
<text x="421.4" y="806.6" font-size="5" font-weight="bold" text-anchor="middle" fill="#333">0.1</text>
<text x="466.7" y="806.6" font-size="5" font-weight="bold" text-anchor="middle" fill="#333">1</text>
<text x="512" y="806.6" font-size="5" font-weight="bold" text-anchor="middle" fill="#333">10</text>
<text x="327" y="816.8" font-size="8" font-weight="bold" text-anchor="middle" textLength="116.5" lengthAdjust="spacingAndGlyphs" fill="#111">T , Rectangular Pulse Duration [sec]</text>
<text x="165.5" y="717.2" font-size="7.6" font-weight="bold" text-anchor="middle" textLength="84.8" lengthAdjust="spacingAndGlyphs" transform="rotate(-90 165.5 717.2)" fill="#111">Z<tspan font-size="5" dy="1.5">θJC</tspan><tspan dy="-1.5"> Normalized Transient</tspan></text>
<text x="175" y="726.4" font-size="7.6" font-weight="bold" text-anchor="middle" textLength="62.8" lengthAdjust="spacingAndGlyphs" transform="rotate(-90 175 726.4)" fill="#111">Thermal Resistance</text>
</svg>
</body></html>
